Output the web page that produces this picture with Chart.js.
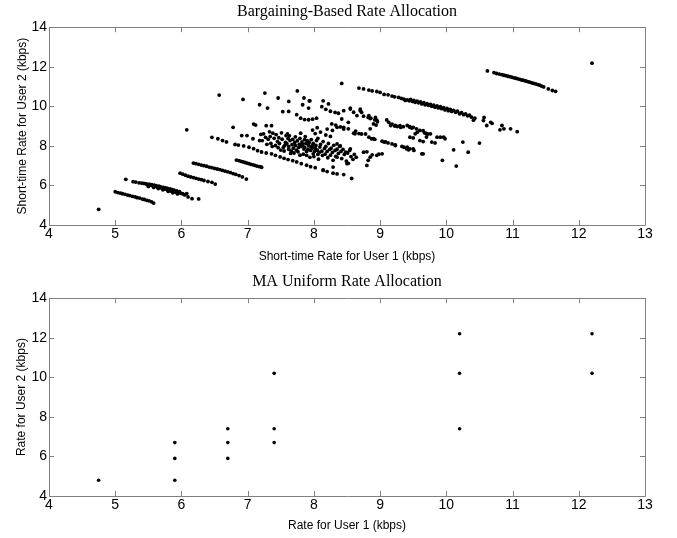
<!DOCTYPE html>
<html>
<head>
<meta charset="utf-8">
<script src="https://cdn.jsdelivr.net/npm/chart.js@4.4.1/dist/chart.umd.min.js"></script>
<style>
  html, body { margin: 0; padding: 0; background: #fff; }
  #wrap { position: relative; width: 677px; height: 538px; }
  canvas { position: absolute; left: 0; }
  #topChart { top: 0; }
  #bottomChart { top: 269px; }
</style>
</head>
<body>
<div id="wrap">
  <canvas id="topChart" width="677" height="269"></canvas>
  <canvas id="bottomChart" width="677" height="269"></canvas>
</div>
<script>
// ---- axis ticks
const xTicks = [4, 5, 6, 7, 8, 9, 10, 11, 12, 13];
const yTicks = [4, 6, 8, 10, 12, 14];

// ---- bargaining-based allocation, [user1, user2] in kbps
const isolatedPts = [[4.75, 4.79], [6.08, 8.81], [6.57, 10.57], [6.93, 10.35], [8.42, 11.16], [12.2, 12.18]];

const segA = [[5.00, 5.68], [5.04, 5.64], [5.08, 5.61], [5.11, 5.58], [5.15, 5.55], [5.19, 5.51], [5.22, 5.49],
  [5.26, 5.45], [5.30, 5.42], [5.33, 5.38], [5.37, 5.36], [5.41, 5.31], [5.44, 5.29], [5.48, 5.24],
  [5.51, 5.22], [5.55, 5.17], [5.58, 5.11]];

const segB = [[5.16, 6.31], [5.27, 6.19], [5.31, 6.17], [5.36, 6.13], [5.40, 6.12], [5.43, 6.10], [5.46, 6.09],
  [5.48, 6.05], [5.51, 6.07], [5.53, 6.02], [5.55, 6.04], [5.57, 5.98], [5.59, 6.01], [5.61, 5.95],
  [5.62, 5.99], [5.64, 5.92], [5.66, 5.96], [5.68, 5.88], [5.69, 5.93], [5.71, 5.86], [5.73, 5.90],
  [5.74, 5.82], [5.76, 5.87], [5.78, 5.80], [5.79, 5.85], [5.81, 5.76], [5.83, 5.82], [5.84, 5.72],
  [5.86, 5.79], [5.88, 5.70], [5.89, 5.76], [5.91, 5.66], [5.93, 5.73], [5.95, 5.62], [5.97, 5.69],
  [5.99, 5.60], [6.02, 5.58], [6.05, 5.52], [6.08, 5.59], [6.10, 5.42], [6.16, 5.33], [6.26, 5.32],
  [5.50, 5.95], [5.58, 5.90], [5.65, 5.84], [5.72, 5.78], [5.80, 5.70], [5.87, 5.63], [5.94, 5.57]];

const segC = [[5.98, 6.62], [6.02, 6.57], [6.06, 6.52], [6.10, 6.47], [6.14, 6.43], [6.18, 6.40], [6.22, 6.36],
  [6.26, 6.32], [6.30, 6.29], [6.34, 6.25], [6.40, 6.20], [6.46, 6.16], [6.51, 6.07]];

const segD = [[6.18, 7.13], [6.22, 7.10], [6.26, 7.07], [6.30, 7.03], [6.34, 7.00], [6.38, 6.97], [6.42, 6.93],
  [6.46, 6.90], [6.50, 6.86], [6.54, 6.83], [6.58, 6.80], [6.62, 6.76], [6.66, 6.72], [6.70, 6.69],
  [6.74, 6.65], [6.78, 6.60], [6.82, 6.56], [6.87, 6.50], [6.92, 6.43], [6.98, 6.32]];

const segE = [[6.83, 7.28], [6.87, 7.25], [6.90, 7.22], [6.93, 7.19], [6.96, 7.16], [6.99, 7.13], [7.02, 7.10],
  [7.05, 7.07], [7.08, 7.04], [7.11, 7.01], [7.14, 6.98], [7.18, 6.95], [7.21, 6.92]];

const lineF = [[6.46, 8.43], [6.55, 8.36], [6.62, 8.27], [6.68, 8.20], [6.81, 8.07], [6.86, 8.04], [6.94, 8.00],
  [7.02, 7.93], [7.09, 7.86], [7.15, 7.76], [7.21, 7.69], [7.28, 7.64], [7.36, 7.60], [7.42, 7.52],
  [7.49, 7.44], [7.55, 7.37], [7.61, 7.31], [7.68, 7.25], [7.74, 7.19], [7.81, 7.10], [7.89, 7.02],
  [7.95, 6.95], [8.02, 6.90], [8.14, 6.78], [8.20, 6.70], [8.29, 6.62], [8.35, 6.58], [8.45, 6.55], [8.57, 6.35]];

const upperLeft = [[7.26, 10.67], [7.75, 10.78], [7.46, 10.42], [7.62, 10.25], [7.18, 10.08], [7.30, 9.91],
  [7.85, 10.42], [7.93, 10.28], [7.83, 10.08], [7.92, 9.91], [7.53, 9.73], [7.62, 9.74], [7.74, 9.58],
  [7.80, 9.40], [7.86, 9.33], [7.92, 9.32], [7.98, 9.35], [8.04, 9.40], [6.78, 8.94], [7.09, 9.10],
  [7.12, 9.05], [7.28, 9.02], [7.36, 9.02], [6.91, 8.52], [6.99, 8.52], [7.08, 8.36], [7.18, 8.27], [7.24, 8.61]];

const cloud = [[7.22, 8.27], [7.20, 8.58], [7.27, 8.43], [7.29, 8.08], [7.31, 8.33], [7.33, 8.71],
  [7.35, 8.13], [7.34, 8.47], [7.37, 7.97], [7.40, 8.38], [7.42, 8.02], [7.38, 8.64],
  [7.45, 8.22], [7.46, 7.91], [7.43, 8.57], [7.48, 8.12], [7.47, 8.41], [7.50, 7.79],
  [7.52, 8.34], [7.54, 7.93], [7.51, 8.66], [7.57, 8.17], [7.55, 7.74], [7.58, 8.52], [7.56, 8.03],
  [7.61, 8.37], [7.62, 7.83], [7.59, 8.12], [7.60, 8.60], [7.64, 8.27], [7.65, 7.62], [7.62, 7.97], [7.63, 8.51],
  [7.67, 8.06], [7.68, 8.33], [7.66, 7.73], [7.71, 8.17], [7.69, 7.88], [7.72, 8.46], [7.70, 7.64],
  [7.74, 7.78], [7.75, 8.26], [7.72, 8.02], [7.78, 8.08], [7.76, 7.70], [7.79, 8.38], [7.77, 7.92],
  [7.81, 7.97], [7.82, 8.20], [7.79, 7.53], [7.80, 8.64], [7.85, 7.84], [7.83, 8.07], [7.86, 8.32], [7.84, 7.58],
  [7.88, 8.13], [7.89, 7.72], [7.86, 7.93], [7.87, 8.47], [7.91, 7.83], [7.92, 8.03], [7.89, 7.52], [7.90, 8.26],
  [7.95, 7.77], [7.93, 8.17], [7.96, 7.93], [7.94, 7.42], [7.98, 8.02], [7.99, 7.60], [7.96, 8.32], [7.97, 7.87],
  [8.01, 7.72], [8.02, 7.88], [7.99, 8.12], [8.00, 7.46], [8.05, 7.78], [8.03, 8.02], [8.06, 7.57], [8.04, 8.27],
  [8.08, 7.67], [8.09, 7.94], [8.06, 8.38], [8.07, 7.33], [8.12, 7.73], [8.10, 8.07], [8.13, 7.52],
  [8.16, 7.87], [8.17, 7.58], [8.14, 8.22], [8.20, 7.72], [8.18, 7.97], [8.21, 7.40],
  [8.24, 7.82], [8.25, 7.53], [8.22, 8.12], [8.28, 7.67], [8.26, 7.88], [8.29, 7.27],
  [8.32, 7.77], [8.33, 7.47], [8.30, 8.03], [8.37, 7.62], [8.35, 7.83], [8.41, 7.72], [8.42, 7.36], [8.39, 7.97],
  [8.46, 7.57], [8.44, 7.82], [8.51, 7.64], [8.49, 7.23], [8.52, 7.12], [8.56, 7.46], [8.54, 7.77],
  [8.61, 7.57], [8.59, 7.32], [8.64, 7.42], [8.02, 8.62], [8.10, 8.70], [8.18, 8.55], [8.25, 8.48],
  [8.28, 8.78], [8.20, 8.85], [8.05, 8.92], [7.98, 8.80]];

const midBand = [[7.94, 10.28], [8.14, 10.28], [8.22, 10.12], [8.12, 9.98], [8.18, 9.85], [8.25, 9.75], [8.32, 9.69],
  [8.37, 9.65], [8.45, 9.78], [8.55, 9.86], [8.60, 9.70], [8.70, 9.78], [8.65, 9.53], [8.75, 9.50], [8.82, 9.44],
  [8.86, 9.40], [8.92, 9.31], [8.96, 9.22], [8.90, 9.11], [8.94, 9.05], [9.13, 9.19], [9.18, 9.10], [9.23, 9.03],
  [9.30, 9.02], [9.35, 8.97], [9.45, 8.94], [9.55, 8.86], [9.53, 8.61], [8.42, 9.36], [8.27, 9.11], [8.33, 9.05],
  [8.45, 8.94], [8.52, 8.86], [8.62, 8.61], [8.68, 8.62], [8.72, 8.60], [8.52, 9.19], [8.78, 8.60],
  [8.55, 9.91], [8.70, 9.86], [8.72, 9.70], [8.83, 9.53], [8.85, 9.38], [8.93, 9.44], [8.95, 9.30], [9.10, 9.31],
  [9.16, 9.03], [9.22, 9.00], [9.26, 8.98], [9.31, 8.94], [9.41, 9.03], [9.45, 8.97], [9.48, 8.90], [9.56, 8.69],
  [9.60, 8.78], [9.69, 8.64], [9.70, 8.45], [9.72, 8.60], [9.86, 8.44], [9.96, 8.44], [9.50, 8.94], [9.65, 8.77],
  [9.67, 8.66], [9.45, 8.44], [9.50, 8.40], [9.60, 8.27], [9.65, 8.22], [9.76, 8.61], [9.78, 8.19], [9.83, 8.15],
  [9.91, 8.44], [9.98, 8.36]];

const lowBand = [[8.87, 8.36], [8.92, 8.33], [9.03, 8.24], [9.08, 8.20], [9.18, 8.10], [9.23, 8.05], [9.33, 7.97],
  [9.40, 7.85], [9.43, 7.80], [8.35, 8.94], [8.40, 8.96], [8.45, 8.85], [8.60, 8.64], [8.63, 8.75], [8.85, 8.86],
  [8.83, 8.44], [8.90, 8.36], [9.06, 8.19], [9.12, 8.15], [9.23, 8.02], [9.36, 7.93], [9.41, 7.93], [9.51, 7.77],
  [9.63, 7.60], [8.35, 8.10], [8.40, 8.00], [8.48, 7.68], [8.55, 7.85], [8.35, 7.43], [8.50, 7.10], [8.80, 7.01],
  [8.85, 7.43], [8.95, 7.52], [8.98, 7.58], [8.14, 6.76], [8.29, 6.93], [8.75, 7.68], [8.80, 7.70], [8.82, 7.27],
  [8.88, 7.55], [9.03, 7.60], [9.45, 7.85], [9.50, 7.85], [9.65, 7.60], [10.11, 7.80], [10.25, 8.19], [10.33, 7.68],
  [10.50, 8.14], [9.94, 7.27], [10.15, 6.98]];

const upperLine = [[8.68, 10.92], [8.75, 10.88], [8.83, 10.82], [8.88, 10.78], [8.95, 10.75], [9.00, 10.70],
  [9.06, 10.60], [9.12, 10.58], [9.18, 10.52], [9.22, 10.48], [9.28, 10.45], [9.32, 10.40], [9.36, 10.36],
  [9.38, 10.30], [9.41, 10.33], [9.44, 10.28], [9.46, 10.35], [9.49, 10.25], [9.51, 10.30], [9.53, 10.20],
  [9.56, 10.26], [9.58, 10.18], [9.61, 10.22], [9.63, 10.12], [9.66, 10.18], [9.68, 10.08], [9.71, 10.14],
  [9.73, 10.05], [9.76, 10.10], [9.78, 10.00], [9.81, 10.06], [9.83, 9.95], [9.86, 10.02], [9.88, 9.92],
  [9.91, 9.98], [9.93, 9.88], [9.96, 9.93], [9.98, 9.82], [10.01, 9.90], [10.03, 9.78], [10.06, 9.85],
  [10.08, 9.74], [10.11, 9.80], [10.14, 9.70], [10.17, 9.75], [10.20, 9.62], [10.23, 9.68], [10.26, 9.58],
  [10.29, 9.62], [10.32, 9.52], [10.35, 9.55], [10.38, 9.45], [10.41, 9.30], [10.43, 9.40], [10.56, 9.28],
  [10.57, 9.44], [10.67, 9.19], [10.69, 9.14], [10.61, 9.03], [10.84, 9.03], [10.87, 8.86], [10.81, 8.81],
  [10.97, 8.86], [11.07, 8.72]];

const topSeg = [[10.62, 11.79], [10.72, 11.70], [10.76, 11.66], [10.80, 11.63], [10.84, 11.60], [10.87, 11.57],
  [10.90, 11.55], [10.93, 11.52], [10.96, 11.50], [10.99, 11.47], [11.02, 11.44], [11.05, 11.42], [11.08, 11.39],
  [11.11, 11.36], [11.14, 11.33], [11.17, 11.31], [11.20, 11.28], [11.23, 11.25], [11.26, 11.22], [11.29, 11.19],
  [11.32, 11.16], [11.35, 11.13], [11.38, 11.10], [11.41, 11.07], [11.44, 11.02], [11.47, 10.98], [11.54, 10.88],
  [11.60, 10.80], [11.65, 10.76]];

// ---- MA uniform allocation
const maUser1 = [4.75, 5.9, 5.9, 5.9, 6.7, 6.7, 6.7, 7.4, 7.4, 7.4, 10.2, 10.2, 10.2, 12.2, 12.2];
const maUser2 = [4.8, 4.8, 5.9, 6.7, 5.9, 6.7, 7.4, 6.7, 7.4, 10.2, 7.4, 10.2, 12.2, 10.2, 12.2];

const bargainGroups = [isolatedPts, segA, segB, segC, segD, segE, lineF, upperLeft, cloud, midBand, lowBand, upperLine, topSeg];
const bargainData = bargainGroups.flat().map(([x, y]) => ({ x, y }));
const maData = maUser1.map((x, i) => ({ x, y: maUser2[i] }));

// 🔹 box + inward ticks on all four sides (matlab style)
const framePlugin = {
    id: "frame",
    afterDatasetsDraw(chart) {
        const { ctx, chartArea: a, scales: { x, y } } = chart;
        const len = 5;
        ctx.save();
        ctx.strokeStyle = "#808080";
        ctx.lineWidth = 1;
        ctx.beginPath();
        ctx.rect(Math.round(a.left) + 0.5, Math.round(a.top) + 0.5, Math.round(a.right - a.left), Math.round(a.bottom - a.top));
        x.ticks.forEach(t => {
            const px = Math.round(x.getPixelForValue(t.value)) + 0.5;
            ctx.moveTo(px, a.bottom); ctx.lineTo(px, a.bottom - len);
            ctx.moveTo(px, a.top); ctx.lineTo(px, a.top + len);
        });
        y.ticks.forEach(t => {
            const py = Math.round(y.getPixelForValue(t.value)) + 0.5;
            ctx.moveTo(a.left, py); ctx.lineTo(a.left + len, py);
            ctx.moveTo(a.right, py); ctx.lineTo(a.right - len, py);
        });
        ctx.stroke();
        ctx.restore();
    }
};

const tickFont = { family: "'Liberation Sans', Arial, sans-serif", size: 14 };
const labelFont = { family: "'Liberation Sans', Arial, sans-serif", size: 12 };
const titleFont = { family: "'Liberation Serif', 'Times New Roman', serif", size: 16, weight: "normal" };

function makeChart(el, data, cfg) {
    return new Chart(el.getContext("2d"), {
        type: "scatter",
        data: { datasets: [{ data, backgroundColor: "#000", borderWidth: 0, pointRadius: cfg.radius, pointHoverRadius: cfg.radius }] },
        options: {
            responsive: false,
            animation: false,
            layout: { padding: { left: 0, right: 32, top: 0, bottom: 0 } },
            plugins: {
                legend: { display: false },
                tooltip: { enabled: false },
                title: { display: true, text: cfg.title, font: titleFont, color: "#000", fullSize: false, padding: cfg.titlePad }
            },
            scales: {
                x: {
                    type: "linear", min: 4, max: 13,
                    afterBuildTicks: s => { s.ticks = xTicks.map(v => ({ value: v })); },
                    ticks: { font: tickFont, color: "#000", padding: 1, maxRotation: 0 },
                    grid: { display: false, drawTicks: false },
                    border: { display: false },
                    title: { display: true, text: cfg.xLabel, font: labelFont, color: "#000", padding: { top: 0, bottom: 5 } },
                    afterFit: s => { s.height = cfg.xHeight; }
                },
                y: {
                    type: "linear", min: 4, max: 14,
                    afterBuildTicks: s => { s.ticks = yTicks.map(v => ({ value: v })); },
                    ticks: { font: tickFont, color: "#000", padding: 2 },
                    grid: { display: false, drawTicks: false },
                    border: { display: false },
                    title: { display: true, text: cfg.yLabel, font: labelFont, color: "#000", padding: { top: cfg.yTitleTop, bottom: 0 } },
                    afterFit: s => { s.width = 49; }
                }
            }
        },
        plugins: [framePlugin]
    });
}

makeChart(document.getElementById("topChart"), bargainData, {
    title: "Bargaining-Based Rate Allocation",
    xLabel: "Short-time Rate for User 1 (kbps)",
    yLabel: "Short-time Rate for User 2 (kbps)",
    titlePad: { top: 2, bottom: 6 },
    xHeight: 44, yTitleTop: 15, radius: 1.9
});

makeChart(document.getElementById("bottomChart"), maData, {
    title: "MA Uniform Rate Allocation",
    xLabel: "Rate for User 1 (kbps)",
    yLabel: "Rate for User 2 (kbps)",
    titlePad: { top: 3, bottom: 7 },
    xHeight: 42, yTitleTop: 14, radius: 1.8
});
</script>
</body>
</html>
